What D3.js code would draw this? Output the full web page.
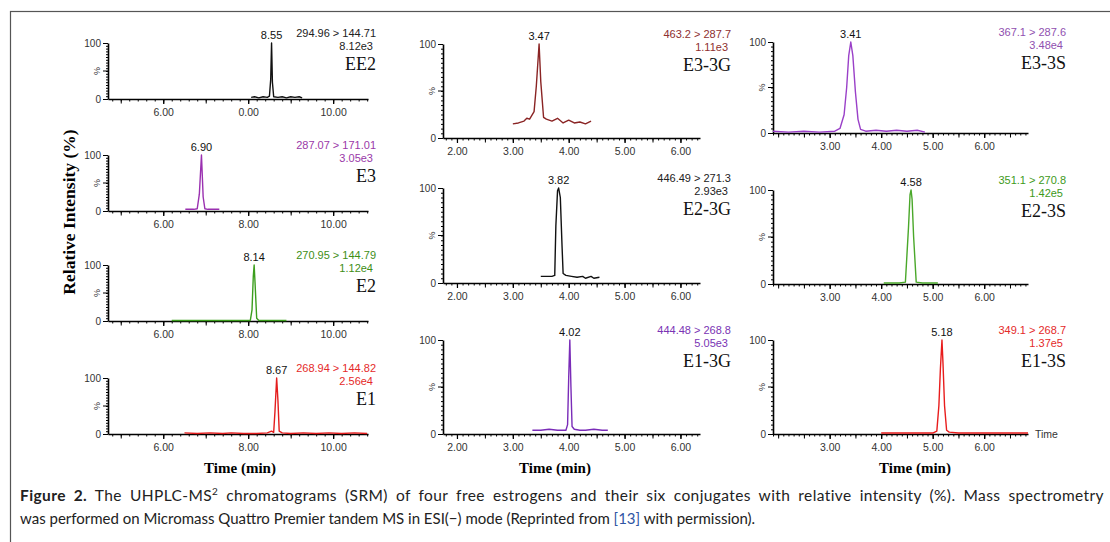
<!DOCTYPE html>
<html>
<head>
<meta charset="utf-8">
<script src="https://cdn.jsdelivr.net/npm/d3@7"></script>
<style>
body { margin: 0; background: #fff; }
</style>
</head>
<body>
<svg id="fig" width="1110" height="542"></svg>
<script>
// panel labels, SRM transitions, intensities and retention times
var names = ["EE2", "E3", "E2", "E1", "E3-3G", "E2-3G", "E1-3G", "E3-3S", "E2-3S", "E1-3S"];
var transitions = ["294.96 > 144.71", "287.07 > 171.01", "270.95 > 144.79", "268.94 > 144.82",
                   "463.2 > 287.7", "446.49 > 271.3", "444.48 > 268.8",
                   "367.1 > 287.6", "351.1 > 270.8", "349.1 > 268.7"];
var intensities = ["8.12e3", "3.05e3", "1.12e4", "2.56e4", "1.11e3", "2.93e3", "5.05e3", "3.48e4", "1.42e5", "1.37e5"];
var peakTimes = [8.55, 6.90, 8.14, 8.67, 3.47, 3.82, 4.02, 3.41, 4.58, 5.18];
var peakLabels = ["8.55", "6.90", "8.14", "8.67", "3.47", "3.82", "4.02", "3.41", "4.58", "5.18"];

// tick labels
var xTicksLeft = [6, 8, 10];
var xLabelsLeft = ["6.00", "8.00", "10.00"];
var xLabelsEE2 = ["6.00", "0.00", "10.00"];
var xTicksMid = [2, 3, 4, 5, 6];
var xLabelsMid = ["2.00", "3.00", "4.00", "5.00", "6.00"];
var xTicksRight = [3, 4, 5, 6];
var xLabelsRight = ["3.00", "4.00", "5.00", "6.00"];

// chromatogram traces, [time (min), relative intensity (%)]
var traceEE2 = [[8.07,3],[8.15,4],[8.25,2],[8.35,4],[8.45,3],[8.5,5],[8.53,35],[8.55,100],[8.57,30],[8.6,4],
                [8.7,3],[8.8,4],[8.9,2],[9.0,4],[9.1,3],[9.2,4],[9.27,2]];
var traceE3 = [[6.52,3],[6.62,3],[6.72,3],[6.8,4],[6.85,30],[6.9,100],[6.94,25],[6.98,4],[7.05,3],[7.15,3],[7.25,3],[7.32,3]];
var traceE2 = [[6.2,1],[7.0,1],[7.8,1],[8.05,1],[8.09,20],[8.12,80],[8.14,100],[8.16,70],[8.2,5],[8.25,1],[8.6,1],[8.9,1]];
var traceE1 = [[6.5,2],[6.8,1],[7.1,2],[7.4,1],[7.6,2],[7.9,1],[8.2,1],[8.45,2],[8.55,5],[8.6,3],[8.63,40],[8.67,100],
               [8.7,60],[8.73,5],[8.8,2],[9.0,1],[9.3,2],[9.6,1],[9.9,2],[10.2,1],[10.5,2],[10.8,1]];
var traceE33G = [[3.0,15],[3.1,16],[3.2,18],[3.25,21],[3.3,20],[3.38,28],[3.42,55],[3.47,100],[3.5,60],[3.55,22],
                 [3.6,20],[3.7,18],[3.8,21],[3.9,16],[4.0,19],[4.1,16],[4.2,17],[4.3,15],[4.4,18]];
var traceE23G = [[3.5,7],[3.6,7],[3.7,7],[3.75,8],[3.77,60],[3.8,97],[3.82,100],[3.85,90],[3.88,40],[3.9,10],
                 [3.95,8],[4.05,7],[4.15,6],[4.25,7],[4.3,5],[4.4,7],[4.45,5],[4.55,6]];
var traceE13G = [[3.35,4],[3.5,4],[3.65,5],[3.8,4],[3.95,4],[3.98,10],[4.0,60],[4.02,100],[4.04,50],[4.06,8],
                 [4.1,5],[4.2,4],[4.3,4],[4.45,5],[4.6,4],[4.7,4]];
var traceE33S = [[1.9,2],[2.2,1],[2.5,2],[2.8,1],[3.1,2],[3.2,5],[3.28,20],[3.33,50],[3.37,85],[3.41,100],[3.45,85],
                 [3.5,45],[3.55,15],[3.6,4],[3.7,2],[3.9,3],[4.1,2],[4.3,3],[4.5,2],[4.7,3],[4.85,1]];
var traceE23S = [[4.05,1],[4.2,1],[4.35,1],[4.47,2],[4.53,60],[4.56,95],[4.58,100],[4.6,90],[4.63,50],[4.68,2],
                 [4.8,1],[5.0,1],[5.1,1]];
var traceE13S = [[4.0,1],[4.5,1],[5.0,1],[5.08,3],[5.12,30],[5.15,70],[5.18,100],[5.2,75],[5.23,30],[5.27,4],
                 [5.32,2],[5.5,1],[6.0,1],[6.5,1],[6.85,1]];
var traces = [traceEE2, traceE3, traceE2, traceE1, traceE33G, traceE23G, traceE13G, traceE33S, traceE23S, traceE13S];

var lineColors = ["#111", "#9a30b0", "#3c9e1e", "#e41e1e", "#8a2424", "#111", "#7a2cb8", "#9a40c8", "#4aa82a", "#e81c1c"];
var textColors = ["#222", "#9a38a8", "#3e8e16", "#e52a2a", "#8e3030", "#222", "#7a34b4", "#9050b0", "#3e9a1a", "#e42a2a"];

var svg = d3.select("#fig");

// frame
svg.append("rect")
    .attr("x", 10.5).attr("y", 11.5)
    .attr("width", 1130).attr("height", 600)
    .attr("fill", "none").attr("stroke", "#555").attr("stroke-width", 1.2);

// column layouts
var cols = [
  {x0: 108, x1: 368, dom: [4.7, 10.82], ticks: xTicksLeft, minor: 0.2, mid: 1, tx: 376},
  {x0: 443, x1: 700, dom: [1.75, 6.35], ticks: xTicksMid, minor: 0.1, mid: 0.5, tx: 731},
  {x0: 773, x1: 1028, dom: [1.9, 6.85], ticks: xTicksRight, minor: 0.1, mid: 0.5, tx: 1066}
];
// [column, y of 100, y of 0]
var slots = [[0,43,99],[0,155,211],[0,265,321],[0,378,434],
             [1,44,138],[1,188,283],[1,340,434],
             [2,42,133],[2,190,284],[2,340,434]];

var numFont = "'Liberation Sans', Arial, sans-serif";
var serif = "'Liberation Serif', 'Times New Roman', serif";

slots.forEach(function(s, i) {
  var c = cols[s[0]];
  var x = d3.scaleLinear().domain(c.dom).range([c.x0, c.x1]);
  var y = d3.scaleLinear().domain([0, 100]).range([s[2], s[1]]);
  var g = svg.append("g");

  var labels = s[0] === 0 ? (i === 0 ? xLabelsEE2 : xLabelsLeft) : (s[0] === 1 ? xLabelsMid : xLabelsRight);

  // minor x ticks
  var minorVals = d3.range(Math.ceil(c.dom[0] / c.minor) * c.minor, c.dom[1], c.minor);
  g.append("g")
      .attr("transform", "translate(0," + s[2] + ")")
      .call(d3.axisBottom(x).tickValues(minorVals).tickSize(2.5).tickSizeOuter(0).tickFormat(""))
      .call(function(a) { a.select(".domain").remove(); });
  var midVals = d3.range(Math.ceil(c.dom[0] / c.mid) * c.mid, c.dom[1], c.mid);
  g.append("g")
      .attr("transform", "translate(0," + s[2] + ")")
      .call(d3.axisBottom(x).tickValues(midVals).tickSize(4.5).tickSizeOuter(0).tickFormat(""))
      .call(function(a) { a.select(".domain").remove(); });

  // major x axis
  var xa = g.append("g")
      .attr("transform", "translate(0," + s[2] + ")")
      .call(d3.axisBottom(x).tickValues(c.ticks).tickSize(5).tickSizeOuter(0)
          .tickFormat(function(d, k) { return labels[k]; }));
  xa.select(".domain").attr("stroke-width", 1.6);
  xa.selectAll(".tick line").attr("stroke-width", 1.2);
  xa.selectAll("text").attr("font-family", numFont).attr("font-size", 10.5).attr("fill", "#333").attr("dy", "0.9em");

  // y axis
  g.append("g")
      .attr("transform", "translate(" + c.x0 + ",0)")
      .call(d3.axisLeft(y).tickValues(d3.range(0, 101, 5)).tickSize(2).tickSizeOuter(0).tickFormat(""))
      .call(function(a) { a.select(".domain").remove(); });
  var ya = g.append("g")
      .attr("transform", "translate(" + c.x0 + ",0)")
      .call(d3.axisLeft(y).tickValues([0, 100]).tickSize(5).tickSizeOuter(0).tickPadding(2));
  ya.select(".domain").attr("stroke-width", 1.6);
  ya.selectAll("text").attr("font-family", numFont).attr("font-size", 10).attr("fill", "#333");
  g.append("line")
      .attr("x1", c.x0 - 5).attr("x2", c.x0).attr("y1", y(50)).attr("y2", y(50))
      .attr("stroke", "#000");
  g.append("text")
      .attr("transform", "translate(" + (c.x0 - 8) + "," + y(50) + ") rotate(-90)")
      .attr("text-anchor", "middle")
      .attr("font-family", numFont).attr("font-size", 9).attr("fill", "#333")
      .text("%");

  // trace
  var line = d3.line().x(function(d) { return x(d[0]); }).y(function(d) { return y(d[1]); });
  g.append("path")
      .datum(traces[i])
      .attr("d", line)
      .attr("fill", "none")
      .attr("stroke", lineColors[i])
      .attr("stroke-width", 1.4)
      .attr("stroke-linejoin", "round");

  // labels
  g.append("text")
      .attr("x", x(peakTimes[i])).attr("y", s[1] - 4)
      .attr("text-anchor", "middle")
      .attr("font-family", numFont).attr("font-size", 11).attr("fill", "#111")
      .text(peakLabels[i]);
  g.append("text")
      .attr("x", c.tx).attr("y", s[1] - 6)
      .attr("text-anchor", "end")
      .attr("font-family", numFont).attr("font-size", 11).attr("fill", textColors[i])
      .text(transitions[i]);
  g.append("text")
      .attr("x", c.tx - 3).attr("y", s[1] + 7)
      .attr("text-anchor", "end")
      .attr("font-family", numFont).attr("font-size", 11).attr("fill", textColors[i])
      .text(intensities[i]);
  g.append("text")
      .attr("x", c.tx).attr("y", s[1] + 27)
      .attr("text-anchor", "end")
      .attr("font-family", serif).attr("font-size", 18).attr("fill", "#111")
      .text(names[i]);
});

// "Time" at the end of the last axis
svg.append("text")
    .attr("x", 1035).attr("y", 438)
    .attr("font-family", numFont).attr("font-size", 10.5).attr("fill", "#333")
    .text("Time");

// axis titles
[240, 555, 915].forEach(function(cx) {
  svg.append("text")
      .attr("x", cx).attr("y", 473)
      .attr("text-anchor", "middle")
      .attr("font-family", serif).attr("font-weight", "bold").attr("font-size", 15)
      .text("Time (min)");
});
svg.append("text")
    .attr("transform", "translate(75,212) rotate(-90)")
    .attr("text-anchor", "middle")
    .attr("font-family", serif).attr("font-weight", "bold").attr("font-size", 17.5)
    .text("Relative Intensity (%)");

// caption (first line justified to the frame width)
var cap = svg.append("text")
    .attr("x", 20).attr("y", 501)
    .attr("font-family", "Lato, 'Open Sans', sans-serif").attr("font-size", 15.5).attr("fill", "#222")
    .attr("letter-spacing", 0.4);
cap.append("tspan").attr("font-weight", "bold").text("Figure 2.");
cap.append("tspan").text(" The UHPLC-MS");
cap.append("tspan").attr("font-size", 10).attr("dy", -6).text("2");
cap.append("tspan").attr("dy", 6).text(" chromatograms (SRM) of four free estrogens and their six conjugates with relative intensity (%). Mass spectrometry");
var natural = cap.node().getComputedTextLength();
cap.attr("word-spacing", Math.max(0, (1084 - natural) / 19));

var cap2 = svg.append("text")
    .attr("x", 20).attr("y", 524)
    .attr("font-family", "Lato, 'Open Sans', sans-serif").attr("font-size", 15).attr("fill", "#222");
cap2.append("tspan").text("was performed on Micromass Quattro Premier tandem MS in ESI(\u2212) mode (Reprinted from ");
cap2.append("tspan").attr("fill", "#2f55a4").text("[13]");
cap2.append("tspan").text(" with permission).");
</script>
</body>
</html>
